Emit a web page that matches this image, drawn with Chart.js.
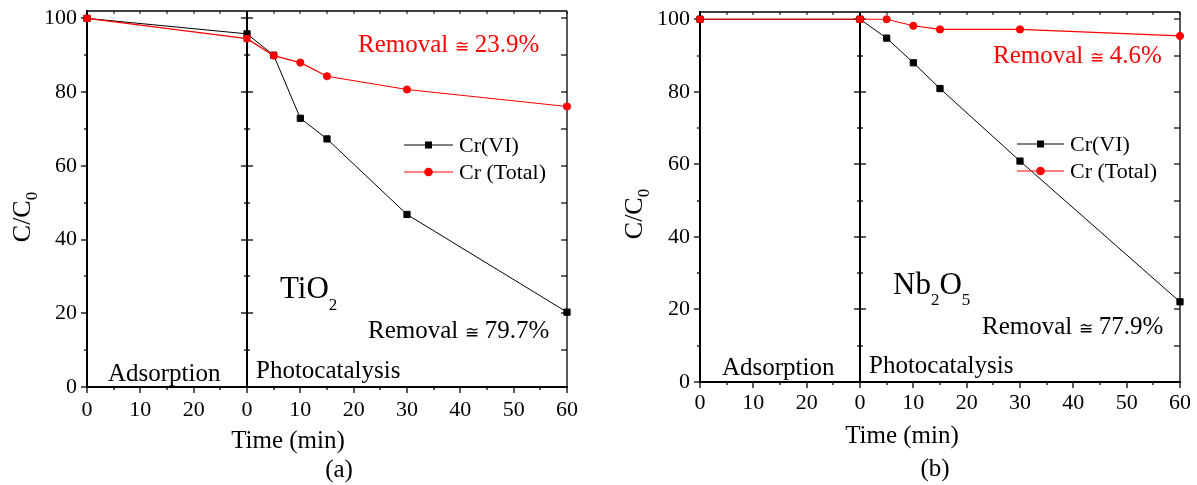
<!DOCTYPE html>
<html>
<head>
<meta charset="utf-8">
<script src="https://cdn.jsdelivr.net/npm/chart.js@4.4.1/dist/chart.umd.min.js"></script>
<style>
  html, body { margin: 0; padding: 0; background: #fff; }
  #wrap { position: relative; width: 1197px; height: 485px; overflow: hidden; }
  canvas { position: absolute; top: 0; }
</style>
</head>
<body>
<div id="wrap">
  <canvas id="panelA" width="600" height="485" style="left:0"></canvas>
  <canvas id="panelB" width="597" height="485" style="left:600px"></canvas>
</div>
<script>
// Sampling times (min). Negative times belong to the dark adsorption stage
// (30 min before the lamp is switched on); 0 onwards is photocatalysis.
const timeMin = [-30, 0, 5, 10, 15, 30, 60];

// C/C0 (%) with TiO2
const tio2CrVI  = [100, 95.8, 90.0, 72.9, 67.3, 46.8, 20.3];
const tio2CrTot = [100, 94.5, 89.9, 88.0, 84.3, 80.7, 76.1];

// C/C0 (%) with Nb2O5
const nbCrVI  = [100, 100, 94.8, 88.0, 80.9, 60.9, 22.1];
const nbCrTot = [100, 100, 100, 98.2, 97.2, 97.2, 95.4];

// Axis ticks (adsorption minutes restart from 0 at the lamp switch)
const xTickValues = [-30, -20, -10, 0, 10, 20, 30, 40, 50, 60];
const xTickLabels = ['0', '10', '20', '0', '10', '20', '30', '40', '50', '60'];
const yTickValues = [0, 20, 40, 60, 80, 100];
const yTickLabels = ['0', '20', '40', '60', '80', '100'];

const seriesNames = ['Cr(VI)', 'Cr (Total)'];
const stageNames = ['Adsorption', 'Photocatalysis'];

const SERIF = '"Liberation Serif", "Times New Roman", serif';
const RED = '#ff0000';
const BLACK = '#000000';

// Total-chromium markers: squares during adsorption, circles afterwards
const totPointStyle = timeMin.map(t => (t <= 0 ? 'rect' : 'circle'));
const totPointRadius = timeMin.map(t => (t <= 0 ? 4.3 : 3.6));

function toPoints(values) {
  return timeMin.map((t, i) => ({ x: t, y: values[i] }));
}

function removal(values) {
  return (100 - values[values.length - 1]).toFixed(1);
}

// Draws a run of text pieces, each with its own size and baseline shift (for subscripts)
function drawRich(ctx, parts, x, y, color) {
  ctx.fillStyle = color;
  ctx.textBaseline = 'alphabetic';
  ctx.textAlign = 'left';
  let cx = x;
  for (const p of parts) {
    ctx.font = p.size + 'px ' + SERIF;
    ctx.fillText(p.t, cx, y + (p.dy || 0));
    cx += ctx.measureText(p.t).width;
  }
  return cx - x;
}

function richWidth(ctx, parts) {
  let w = 0;
  for (const p of parts) {
    ctx.font = p.size + 'px ' + SERIF;
    w += ctx.measureText(p.t).width;
  }
  return w;
}

function removalParts(values) {
  return [
    { t: 'Removal ', size: 25 },
    { t: '\u2245', size: 17 },
    { t: ' ' + removal(values) + '%', size: 25 }
  ];
}

// Frame, stage separator and tick marks, drawn from the chart's own scales
const frameTicks = {
  id: 'frameTicks',
  beforeDatasetsDraw(chart) {
    const { ctx, chartArea: a, scales: { x, y } } = chart;
    const x0 = Math.round(x.getPixelForValue(0));
    ctx.save();
    ctx.strokeStyle = BLACK;
    ctx.lineCap = 'butt';

    const line = (x1, y1, x2, y2, w) => {
      ctx.lineWidth = w;
      ctx.beginPath();
      ctx.moveTo(x1, y1);
      ctx.lineTo(x2, y2);
      ctx.stroke();
    };

    // x ticks every 5 min
    for (let t = x.min; t <= x.max; t += 5) {
      const px = Math.round(x.getPixelForValue(t));
      const major = t % 10 === 0;
      line(px, a.bottom, px, a.bottom + (major ? 6 : 3), 1.3);
      line(px, a.top, px, a.top + 3, 1);
    }
    // y ticks every 10 %
    for (let v = 0; v <= 100; v += 10) {
      const py = Math.round(y.getPixelForValue(v));
      const major = v % 20 === 0;
      const len = major ? 6 : 3;
      line(a.left - len, py, a.left, py, 1.3);
      line(x0 - len, py, x0 + len, py, 1.3);
      line(a.right - 6, py, a.right, py, 1.2);
    }
    // Frame
    line(a.left, a.top, a.right, a.top, 1.3);
    line(a.right, a.top, a.right, a.bottom, 1.3);
    line(a.left, a.top - 1, a.left, a.bottom + 1, 2);
    line(a.left - 1, a.bottom, a.right + 1, a.bottom, 2);
    // Adsorption / photocatalysis separator
    line(x0, a.top, x0, a.bottom, 2);
    ctx.restore();
  }
};

// Legend, labels and axis titles
const annotations = {
  id: 'annotations',
  afterDraw(chart) {
    const o = chart.options.plugins.annotations;
    const { ctx } = chart;
    const ds = chart.data.datasets;
    ctx.save();

    // Legend rows (black series first)
    const rows = [ds[1], ds[0]];
    rows.forEach((d, i) => {
      const ly = o.legend.y[i];
      ctx.strokeStyle = d.borderColor;
      ctx.lineWidth = 1;
      ctx.beginPath();
      ctx.moveTo(o.legend.x, ly);
      ctx.lineTo(o.legend.x + o.legend.w, ly);
      ctx.stroke();
      const mx = o.legend.x + o.legend.w / 2;
      ctx.fillStyle = d.borderColor;
      ctx.beginPath();
      if (i === 0) {
        ctx.rect(mx - 3.5, ly - 3.5, 7, 7);
      } else {
        ctx.arc(mx, ly, 4.3, 0, Math.PI * 2);
      }
      ctx.fill();
      ctx.font = '22px ' + SERIF;
      ctx.textBaseline = 'middle';
      ctx.textAlign = 'left';
      ctx.fillStyle = BLACK;
      ctx.fillText(d.label, o.legend.x + o.legend.w + 6, ly + 1);
    });

    // Removal percentages
    const viVals = ds[1].data.map(p => p.y);
    const totVals = ds[0].data.map(p => p.y);
    drawRich(ctx, removalParts(totVals), o.remTot.x, o.remTot.y, RED);
    drawRich(ctx, removalParts(viVals), o.remVI.x, o.remVI.y, BLACK);

    // Catalyst name
    drawRich(ctx, o.catalyst.parts, o.catalyst.x, o.catalyst.y, BLACK);

    // Stage names
    drawRich(ctx, [{ t: stageNames[0], size: 25 }], o.stage.x[0], o.stage.y[0], BLACK);
    drawRich(ctx, [{ t: stageNames[1], size: 25 }], o.stage.x[1], o.stage.y[1], BLACK);

    // x title and panel letter
    ctx.font = '25px ' + SERIF;
    ctx.textAlign = 'center';
    ctx.textBaseline = 'alphabetic';
    ctx.fillStyle = BLACK;
    ctx.fillText('Time (min)', o.xTitle.x, o.xTitle.y);
    ctx.fillText(o.letter.t, o.letter.x, o.letter.y);

    // y title, rotated
    const yParts = [{ t: 'C/C', size: 26 }, { t: '0', size: 17, dy: 7 }];
    ctx.save();
    ctx.translate(o.yTitle.x, o.yTitle.y);
    ctx.rotate(-Math.PI / 2);
    const w = richWidth(ctx, yParts);
    drawRich(ctx, yParts, -w / 2, 0, BLACK);
    ctx.restore();

    ctx.restore();
  }
};

function makePanel(canvasId, area, vi, tot, ann) {
  const canvas = document.getElementById(canvasId);
  const W = canvas.width, H = canvas.height;
  return new Chart(canvas, {
    type: 'line',
    data: {
      datasets: [
        {
          label: seriesNames[1],
          data: toPoints(tot),
          borderColor: RED,
          backgroundColor: RED,
          borderWidth: 1.2,
          pointStyle: totPointStyle,
          pointRadius: totPointRadius,
          pointBorderWidth: 1,
          pointBorderColor: RED,
          pointBackgroundColor: RED,
          clip: false,
          order: 0
        },
        {
          label: seriesNames[0],
          data: toPoints(vi),
          borderColor: BLACK,
          backgroundColor: BLACK,
          borderWidth: 1,
          pointStyle: 'rect',
          pointRadius: 4.4,
          pointBorderWidth: 1,
          pointBorderColor: BLACK,
          pointBackgroundColor: BLACK,
          clip: false,
          order: 1
        }
      ]
    },
    options: {
      responsive: false,
      animation: false,
      events: [],
      layout: { padding: { left: 0, top: area.top, right: W - area.right, bottom: 0 } },
      elements: { line: { tension: 0 } },
      scales: {
        x: {
          type: 'linear',
          min: -30,
          max: 60,
          afterBuildTicks: s => { s.ticks = xTickValues.map(v => ({ value: v })); },
          afterFit: s => { s.height = H - area.bottom; s.paddingLeft = 0; s.paddingRight = 0; },
          grid: { display: false, drawTicks: false },
          border: { display: false },
          ticks: {
            autoSkip: false,
            maxRotation: 0,
            padding: ann.xTickPad,
            color: BLACK,
            font: { family: SERIF, size: 22 },
            callback: v => xTickLabels[xTickValues.indexOf(v)]
          }
        },
        y: {
          type: 'linear',
          min: 0,
          max: 102,
          afterBuildTicks: s => { s.ticks = yTickValues.map(v => ({ value: v })); },
          afterFit: s => { s.width = area.left; s.paddingTop = 0; s.paddingBottom = 0; },
          grid: { display: false, drawTicks: false },
          border: { display: false },
          ticks: {
            padding: 10,
            color: BLACK,
            font: { family: SERIF, size: 22 },
            callback: v => yTickLabels[yTickValues.indexOf(v)]
          }
        }
      },
      plugins: {
        legend: { display: false },
        title: { display: false },
        tooltip: { enabled: false },
        annotations: ann
      }
    },
    plugins: [frameTicks, annotations]
  });
}

makePanel('panelA',
  { left: 87, right: 567, top: 11, bottom: 387 },
  tio2CrVI, tio2CrTot,
  {
    xTickPad: 10,
    legend: { x: 404, w: 49, y: [145, 172] },
    remTot: { x: 358, y: 52 },
    remVI: { x: 368, y: 338 },
    catalyst: { x: 280, y: 298, parts: [{ t: 'TiO', size: 31 }, { t: '2', size: 17, dy: 12 }] },
    stage: { x: [108, 256], y: [381, 378] },
    xTitle: { x: 288, y: 448 },
    letter: { t: '(a)', x: 339, y: 477 },
    yTitle: { x: 30, y: 217 }
  });

makePanel('panelB',
  { left: 100, right: 580, top: 12, bottom: 382 },
  nbCrVI, nbCrTot,
  {
    xTickPad: 8,
    legend: { x: 417, w: 47, y: [144, 171] },
    remTot: { x: 393, y: 63 },
    remVI: { x: 382, y: 334 },
    catalyst: { x: 293, y: 294, parts: [
      { t: 'Nb', size: 31 }, { t: '2', size: 17, dy: 11 },
      { t: 'O', size: 31 }, { t: '5', size: 17, dy: 11 }
    ] },
    stage: { x: [122, 269], y: [375, 373] },
    xTitle: { x: 302, y: 443 },
    letter: { t: '(b)', x: 335, y: 476 },
    yTitle: { x: 42, y: 214 }
  });
</script>
</body>
</html>
